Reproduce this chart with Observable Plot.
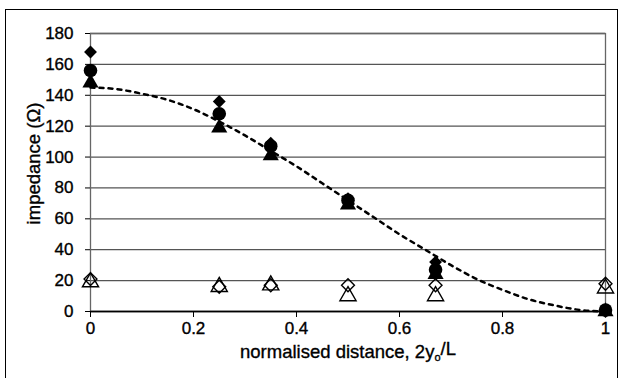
<!DOCTYPE html>
<html>
<head>
<meta charset="utf-8">
<script src="https://cdn.jsdelivr.net/npm/d3@7"></script>
<script src="https://cdn.jsdelivr.net/npm/@observablehq/plot@0.6"></script>
<style>
  html, body { margin: 0; padding: 0; background: #fff; }
  #wrap { position: relative; width: 623px; height: 378px; overflow: hidden; }
  #border { position: absolute; left: 5px; top: 9px; width: 613px; height: 400px; border: 1.5px solid #000; box-sizing: border-box; }
  #chart text { stroke: #000; stroke-width: 0.35px; }
</style>
</head>
<body>
<div id="wrap"><div id="border"></div><div id="chart"></div></div>
<script>
// Measurement positions (normalised distance)
const xPos = [0, 0.25, 0.35, 0.5, 0.67, 1];
// Filled series
const filledDiamond = [168, 136, 109, 73, 32, 0];
const filledCircle = [156, 128, 107, 72, 27, 1];
const filledTriangle = [148, 119, 101, 69, 24, 0];
// Open series
const openDiamond = [21, 16, 17, 17, 17, 18];
const openTriangle = [19, 16, 17, 10, 10, 15];
// Dotted model curve
const curveX = [0, 0.05, 0.1, 0.15, 0.2, 0.25, 0.3, 0.35, 0.4, 0.45, 0.5, 0.55, 0.6, 0.65, 0.7, 0.75, 0.8, 0.85, 0.9, 0.95, 1];
const curveY = [145, 144, 141, 137, 131, 123, 114, 104, 94, 83, 72, 61, 50, 40, 30, 21, 14, 8, 4, 1, 0];
// Ticks
const yTicks = [0, 20, 40, 60, 80, 100, 120, 140, 160, 180];
const xTicks = [0, 0.2, 0.4, 0.6, 0.8, 1];

const toPts = (ys) => xPos.map((x, i) => ({x, y: ys[i]}));
const curve = curveX.map((x, i) => ({x, y: curveY[i]}));

const chart = Plot.plot({
  width: 623,
  height: 378,
  marginLeft: 90,
  marginRight: 18,
  marginTop: 33,
  marginBottom: 67,
  style: {fontFamily: "'Liberation Sans', Arial, sans-serif", fontSize: "17px", color: "#000", background: "transparent"},
  x: {domain: [0, 1]},
  y: {domain: [0, 180]},
  marks: [
    Plot.gridY(yTicks, {stroke: "#555", strokeOpacity: 1, strokeWidth: 1.3}),
    Plot.frame({stroke: "#666", strokeWidth: 1.3}),
    Plot.ruleY([0], {stroke: "#000", strokeWidth: 1.6}),
    Plot.axisY(yTicks, {tickSize: 5, tickPadding: 12, fontSize: 17, label: "impedance (Ω)", labelAnchor: "center", labelArrow: "none", labelOffset: 64}),
    Plot.axisX(xTicks, {tickSize: 6, tickPadding: 4, fontSize: 17, tickFormat: d => String(d), label: "normalised distance, 2yo/L", labelAnchor: "center", labelArrow: "none", labelOffset: 46}),
    Plot.line(curve, {x: "x", y: "y", stroke: "#000", strokeWidth: 2.5, strokeDasharray: "4,5", curve: "monotone-x"}),
    Plot.dot(toPts(openTriangle), {x: "x", y: "y", symbol: "triangle", r: 6, fill: "none", stroke: "#000", strokeWidth: 1.4}),
    Plot.dot(toPts(openDiamond), {x: "x", y: "y", symbol: "diamond2", r: 5.8, fill: "none", stroke: "#000", strokeWidth: 1.4}),
    Plot.dot(toPts(filledDiamond), {x: "x", y: "y", symbol: "diamond2", r: 5.8, fill: "#000", stroke: "none"}),
    Plot.dot(toPts(filledTriangle), {x: "x", y: "y", symbol: "triangle", r: 6, fill: "#000", stroke: "none"}),
    Plot.dot(toPts(filledCircle), {x: "x", y: "y", symbol: "circle", r: 6.8, fill: "#000", stroke: "none"})
  ]
});
document.getElementById("chart").appendChild(chart);

d3.select(chart).selectAll("text").each(function() {
  const t = d3.select(this);
  const s = t.text();
  if (s === "normalised distance, 2yo/L") {
    t.style("font-size", "18.5px");
    t.text("");
    t.append("tspan").text("normalised distance, 2y");
    t.append("tspan").attr("font-size", "11px").attr("dy", "0.3em").text("o");
    t.append("tspan").attr("dy", "-0.3em").text("/L");
  } else if (s === "impedance (Ω)") {
    t.style("font-size", "18.5px");
    t.attr("dx", "9");
  }
});
</script>
</body>
</html>
